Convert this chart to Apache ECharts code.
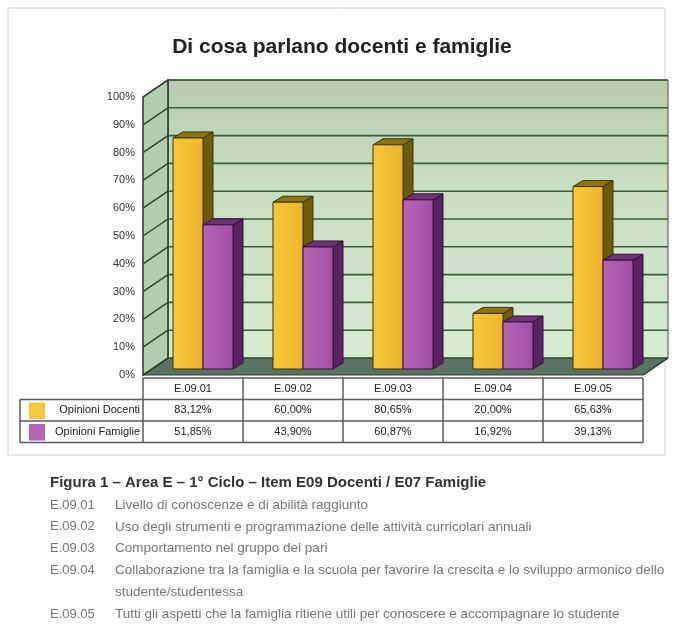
<!DOCTYPE html>
<html>
<head>
<meta charset="utf-8">
<script src="https://cdn.jsdelivr.net/npm/echarts@6/dist/echarts.min.js"></script>
<style>
  html, body { margin: 0; padding: 0; background: #ffffff; }
  #chart { width: 673px; height: 643px; }
</style>
</head>
<body>
<div id="chart"></div>
<script>
// ---- data ----
const categories = ['E.09.01', 'E.09.02', 'E.09.03', 'E.09.04', 'E.09.05'];
const seriesNames = ['Opinioni Docenti', 'Opinioni Famiglie'];
const docenti = [83.12, 60.00, 80.65, 20.00, 65.63];
const famiglie = [51.85, 43.90, 60.87, 16.92, 39.13];
const yTicks = [0, 10, 20, 30, 40, 50, 60, 70, 80, 90, 100];

const chartTitle = 'Di cosa parlano docenti e famiglie';
const captionTitle = 'Figura 1 \u2013 Area E \u2013 1\u00b0 Ciclo \u2013 Item E09 Docenti / E07 Famiglie';
const captionCodes = ['E.09.01', 'E.09.02', 'E.09.03', 'E.09.04', '', 'E.09.05'];
const captionTexts = [
  'Livello di conoscenze e di abilit\u00e0 raggiunto',
  'Uso degli strumenti e programmazione delle attivit\u00e0 curricolari annuali',
  'Comportamento nel gruppo dei pari',
  'Collaborazione tra la famiglia e la scuola per favorire la crescita e lo sviluppo armonico dello',
  'studente/studentessa',
  'Tutti gli aspetti che la famiglia ritiene utili per conoscere e accompagnare lo studente'
];

// ---- 3D look ----
const FONT = '"Liberation Sans", Arial, sans-serif';
const WALL = [25, -17];      // depth of the walls
const BAR_OFF = [10, -6];    // bars stand a bit behind the front edge
const BAR_DEPTH = [10, -6];  // depth of a single column
const palette = [
  { front: ['#f6c93a', '#efb52b'], side: '#6e5c0c', top: '#8c7414', edge: '#3f3300' },
  { front: ['#b764b6', '#a04fa4'], side: '#5a2263', top: '#6f3277', edge: '#34103a' }
];

const fmt = v => v.toFixed(2).replace('.', ',') + '%';
const add = (p, d) => [p[0] + d[0], p[1] + d[1]];

function renderWalls(params, api) {
  const cs = params.coordSys;
  const x0 = cs.x, x1 = cs.x + cs.width;
  const yB = api.coord([0, 0])[1];
  const yT = api.coord([0, 100])[1];
  const ch = [];
  // floor
  ch.push({ type: 'polygon', shape: { points: [[x0, yB], [x1, yB], add([x1, yB], WALL), add([x0, yB], WALL)] },
    style: { fill: '#5a7264', stroke: '#2c3c30', lineWidth: 1 } });
  // back wall
  ch.push({ type: 'polygon', shape: { points: [add([x0, yT], WALL), add([x1, yT], WALL), add([x1, yB], WALL), add([x0, yB], WALL)] },
    style: {
      fill: new echarts.graphic.LinearGradient(0, 0, 0, 1, [
        { offset: 0, color: '#b6cbb0' }, { offset: 0.35, color: '#c8dec3' }, { offset: 1, color: '#d6ecd3' }
      ]),
      stroke: '#3a553a', lineWidth: 1
    } });
  // left wall
  ch.push({ type: 'polygon', shape: { points: [[x0, yT], add([x0, yT], WALL), add([x0, yB], WALL), [x0, yB]] },
    style: { fill: '#b3ceae', stroke: '#243524', lineWidth: 1.5 } });
  // gridlines on the back wall and their diagonals on the side wall
  yTicks.forEach(t => {
    const y = api.coord([0, t])[1];
    ch.push({ type: 'line', shape: { x1: x0 + WALL[0], y1: y + WALL[1], x2: x1 + WALL[0], y2: y + WALL[1] },
      style: { stroke: '#3b5b3b', lineWidth: 1.6 } });
    ch.push({ type: 'line', shape: { x1: x0, y1: y, x2: x0 + WALL[0], y2: y + WALL[1] },
      style: { stroke: '#2a432a', lineWidth: 1.4 } });
  });
  // right edge of the floor
  ch.push({ type: 'line', shape: { x1: x1, y1: yB, x2: x1 + WALL[0], y2: yB + WALL[1] },
    style: { stroke: '#2a3a2a', lineWidth: 1.5 } });
  return { type: 'group', children: ch };
}

function makeBarRenderer(k) {
  return function (params, api) {
    const i = api.value(0), v = api.value(1);
    const top = api.coord([i, v]);
    const base = api.coord([i, 0]);
    const bw = api.size([1, 0])[0] * 0.3;
    const xl = top[0] - bw + k * bw + BAR_OFF[0];
    const xr = xl + bw;
    const yt = top[1] + BAR_OFF[1];
    const yb = base[1] + BAR_OFF[1];
    const c = palette[k];
    const ch = [];
    // side face
    ch.push({ type: 'polygon', shape: { points: [[xr, yt], add([xr, yt], BAR_DEPTH), add([xr, yb], BAR_DEPTH), [xr, yb]] },
      style: { fill: c.side, stroke: c.edge, lineWidth: 1 } });
    // top face
    ch.push({ type: 'polygon', shape: { points: [[xl, yt], [xr, yt], add([xr, yt], BAR_DEPTH), add([xl, yt], BAR_DEPTH)] },
      style: { fill: c.top, stroke: c.edge, lineWidth: 1 } });
    // front face
    ch.push({ type: 'rect', shape: { x: xl, y: yt, width: bw, height: yb - yt },
      style: {
        fill: new echarts.graphic.LinearGradient(0, 0, 1, 0, [
          { offset: 0, color: c.front[0] }, { offset: 1, color: c.front[1] }
        ]),
        stroke: c.edge, lineWidth: 1
      } });
    return { type: 'group', children: ch };
  };
}

// data table under the plot
const ROW_H = 21.5;
const TABLE_GAP = 3;
const LEGEND_LEFT = 20;
function renderTable(params, api) {
  const i = api.value(0);
  const cs = params.coordSys;
  const yB = api.coord([0, 0])[1];
  const cx = api.coord([i, 0])[0];
  const cw = api.size([1, 0])[0];
  const t0 = yB + TABLE_GAP;
  const lineStyle = { stroke: '#5a5a5a', lineWidth: 1.5 };
  const textStyle = (txt, x, y, align) => ({
    type: 'text', x: x, y: y,
    style: { text: txt, fill: '#222', font: '11px ' + FONT, align: align || 'center', verticalAlign: 'middle' }
  });
  const ch = [];
  const rowsY = [t0 + ROW_H / 2, t0 + ROW_H * 1.5, t0 + ROW_H * 2.5];
  ch.push(textStyle(categories[i], cx, rowsY[0]));
  ch.push(textStyle(fmt(docenti[i]), cx, rowsY[1]));
  ch.push(textStyle(fmt(famiglie[i]), cx, rowsY[2]));
  // right border of this column
  ch.push({ type: 'line', shape: { x1: cx + cw / 2, y1: t0, x2: cx + cw / 2, y2: t0 + ROW_H * 3 }, style: lineStyle });
  if (i === 0) {
    const xL = cs.x, xR = cs.x + cs.width;
    ch.push({ type: 'line', shape: { x1: xL, y1: t0, x2: xL, y2: t0 + ROW_H * 3 }, style: lineStyle });
    ch.push({ type: 'line', shape: { x1: LEGEND_LEFT, y1: t0 + ROW_H, x2: LEGEND_LEFT, y2: t0 + ROW_H * 3 }, style: lineStyle });
    for (let r = 1; r <= 3; r++) {
      ch.push({ type: 'line', shape: { x1: LEGEND_LEFT, y1: t0 + ROW_H * r, x2: xR, y2: t0 + ROW_H * r }, style: lineStyle });
    }
    ch.push({ type: 'line', shape: { x1: xL, y1: t0, x2: xR, y2: t0 }, style: lineStyle });
    // legend keys
    seriesNames.forEach((name, k) => {
      const ry = t0 + ROW_H * (k + 1);
      ch.push({ type: 'rect', shape: { x: LEGEND_LEFT + 9, y: ry + 3, width: 16, height: ROW_H - 5 },
        style: { fill: palette[k].front[0] } });
      ch.push(textStyle(name, xL - 3, ry + ROW_H / 2, 'right'));
    });
  }
  return { type: 'group', children: ch };
}

// caption below the chart
const captionGraphics = [
  { type: 'text', x: 50, y: 483, style: { text: captionTitle, fill: '#333', font: 'bold 15px ' + FONT, verticalAlign: 'middle' } }
];
captionTexts.forEach((txt, j) => {
  const y = 505 + j * 21.8;
  if (captionCodes[j]) {
    captionGraphics.push({ type: 'text', x: 50, y: y, style: { text: captionCodes[j], fill: '#777', font: '13px ' + FONT, verticalAlign: 'middle' } });
  }
  captionGraphics.push({ type: 'text', x: 115, y: y, style: { text: txt, fill: '#777', font: '13.5px ' + FONT, verticalAlign: 'middle' } });
});

const chart = echarts.init(document.getElementById('chart'), null, { renderer: 'canvas' });
chart.setOption({
  backgroundColor: '#ffffff',
  animation: false,
  grid: { left: 143, right: 30, top: 97, bottom: 268 },
  xAxis: { type: 'category', data: categories, show: false },
  yAxis: {
    type: 'value', min: 0, max: 100, interval: 10,
    axisLine: { show: false }, axisTick: { show: false }, splitLine: { show: false },
    axisLabel: { formatter: '{value}%', margin: 8, fontSize: 11, color: '#333', fontFamily: FONT }
  },
  graphic: [
    { type: 'rect', shape: { x: 8, y: 8, width: 657, height: 447 }, style: { fill: 'none', stroke: '#d2d2d2', lineWidth: 1 }, z: -1 },
    { type: 'text', x: 342, y: 47, style: { text: chartTitle, fill: '#222', font: 'bold 21px ' + FONT, align: 'center', verticalAlign: 'middle' } }
  ].concat(captionGraphics),
  series: [
    { type: 'custom', name: 'pareti', renderItem: renderWalls, data: [[0, 0]], z: 1, silent: true },
    { type: 'custom', name: seriesNames[0], renderItem: makeBarRenderer(0), data: docenti.map((v, i) => [i, v]), z: 2 },
    { type: 'custom', name: seriesNames[1], renderItem: makeBarRenderer(1), data: famiglie.map((v, i) => [i, v]), z: 3 },
    { type: 'custom', name: 'tabella', renderItem: renderTable, data: categories.map((c, i) => [i, 0]), z: 4, silent: true }
  ]
});
</script>
</body>
</html>
